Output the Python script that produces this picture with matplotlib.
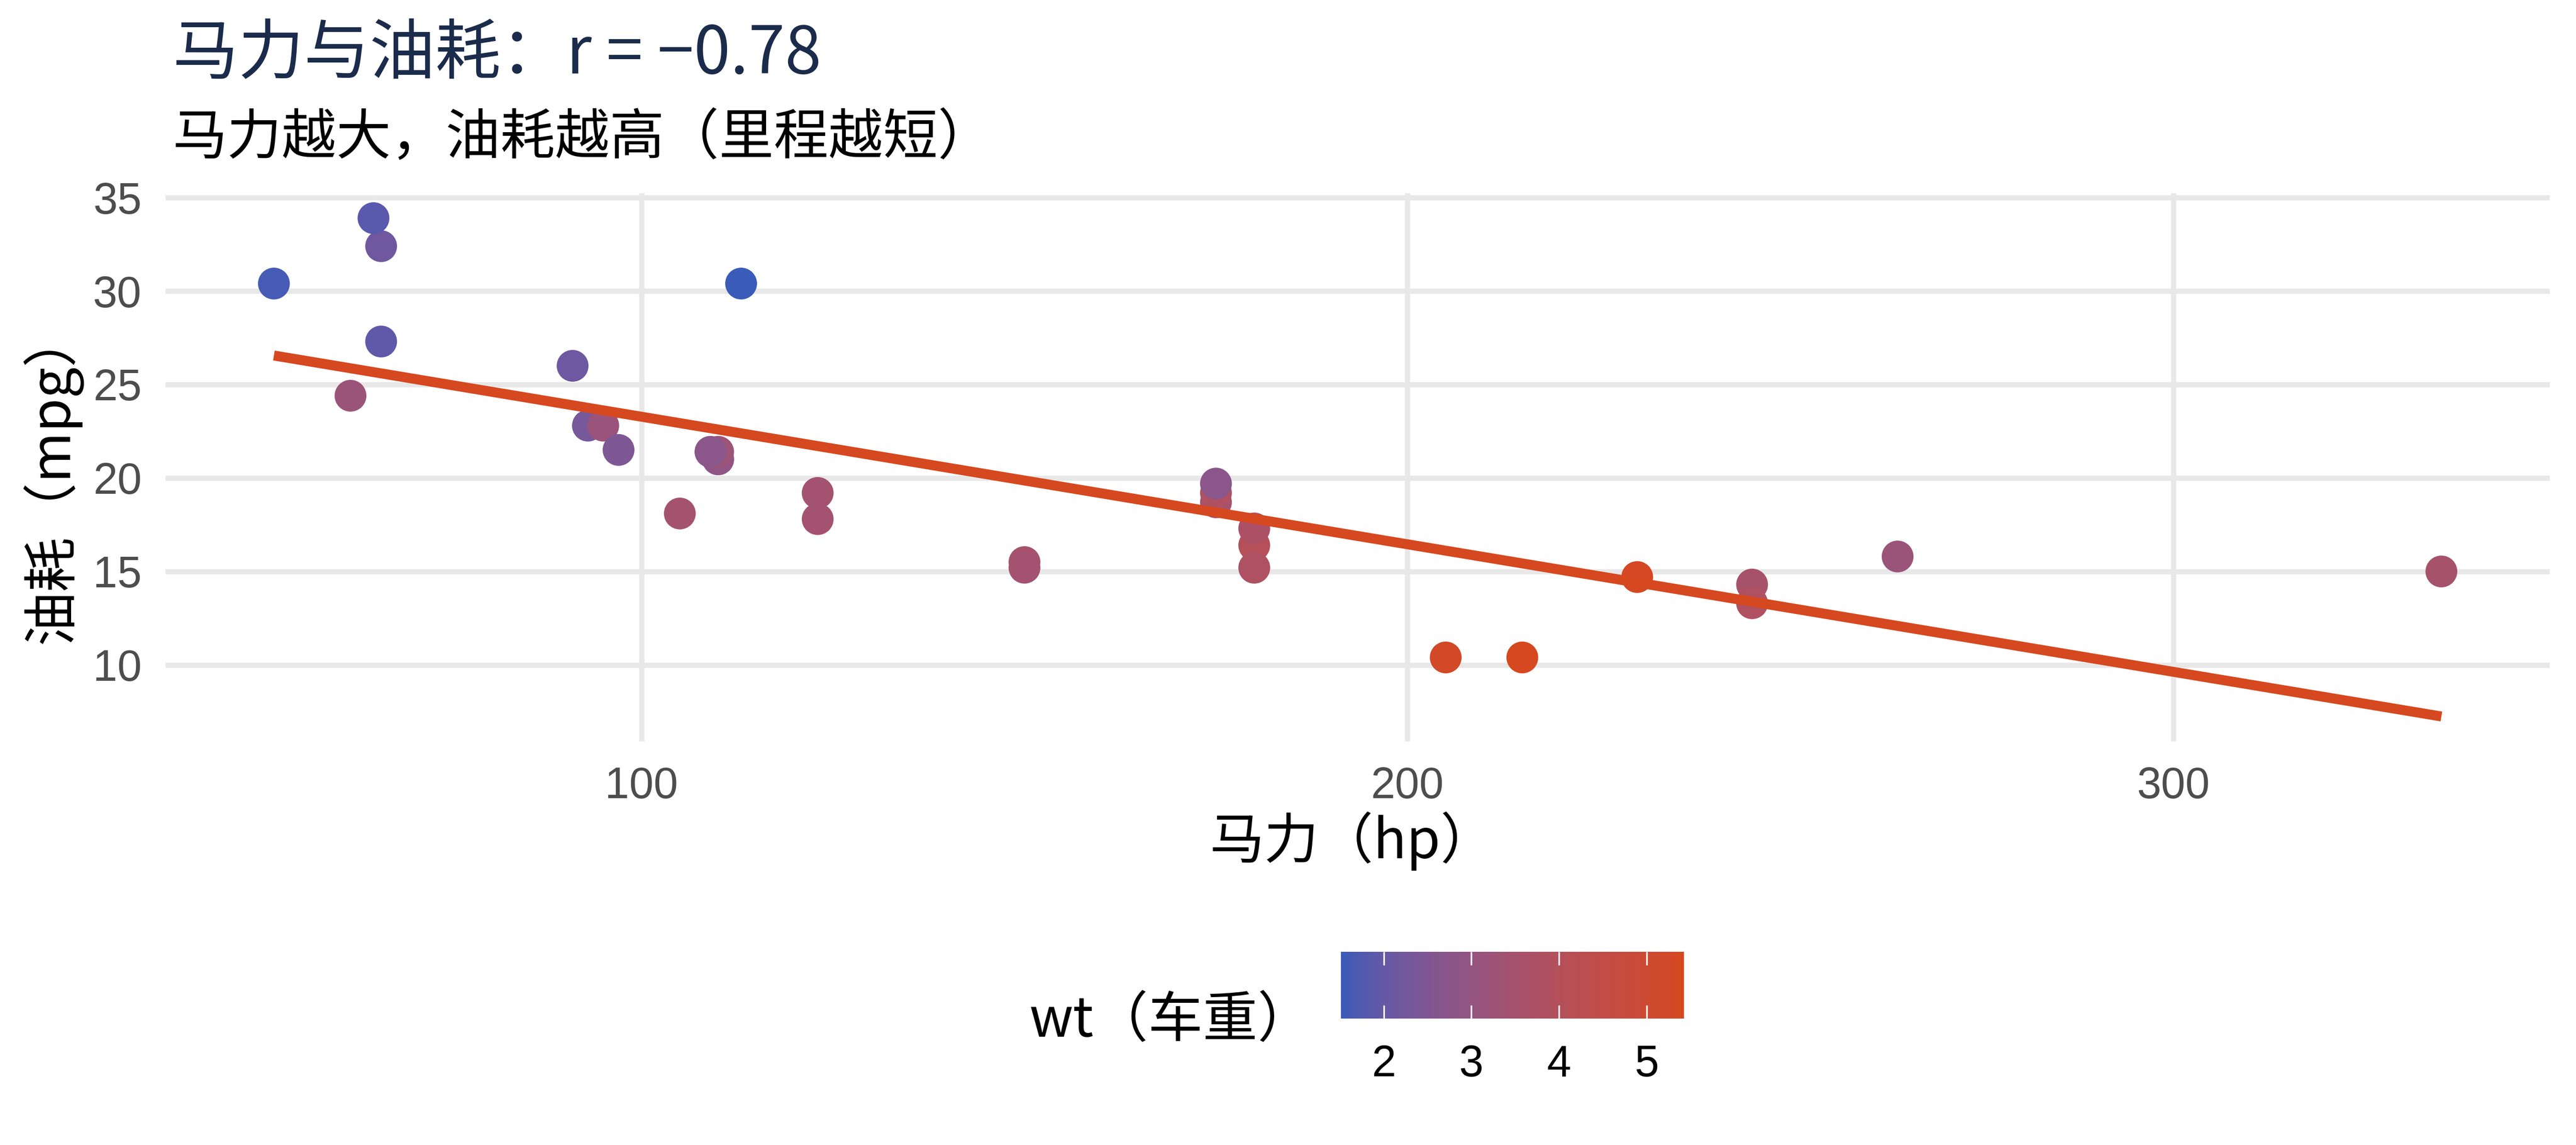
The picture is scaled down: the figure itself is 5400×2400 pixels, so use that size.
import numpy as np
import matplotlib
matplotlib.use("Agg")
import matplotlib.pyplot as plt
from matplotlib.colors import ListedColormap, Normalize, to_rgb

# ---- data (mtcars: hp, mpg, wt) ----
hp = [110, 110, 93, 110, 175, 105, 245, 62, 95, 123, 123, 180, 180, 180, 205,
      215, 230, 66, 52, 65, 97, 150, 150, 245, 175, 66, 91, 113, 264, 175, 335, 109]
mpg = [21.0, 21.0, 22.8, 21.4, 18.7, 18.1, 14.3, 24.4, 22.8, 19.2, 17.8, 16.4, 17.3, 15.2, 10.4,
       10.4, 14.7, 32.4, 30.4, 33.9, 21.5, 15.5, 15.2, 13.3, 19.2, 27.3, 26.0, 30.4, 15.8, 19.7, 15.0, 21.4]
wt = [2.620, 2.875, 2.320, 3.215, 3.440, 3.460, 3.570, 3.190, 3.150, 3.440, 3.440, 4.070, 3.730, 3.780, 5.250,
      5.424, 5.345, 2.200, 1.615, 1.835, 2.465, 3.520, 3.435, 3.840, 3.845, 1.935, 2.140, 1.513, 3.170, 2.770, 3.570, 2.780]

x_breaks = [100, 200, 300]
y_breaks = [10, 15, 20, 25, 30, 35]
legend_breaks = [2, 3, 4, 5]

title_text = "马力与油耗：r = −0.78"
subtitle_text = "马力越大，油耗越高（里程越短）"
x_label = "马力（hp）"
y_label = "油耗（mpg）"
legend_title = "wt（车重）"

low_col = "#3A5BB9"
high_col = "#D6481F"
title_col = "#1B2B4B"

CJK = ["Noto Sans CJK SC", "DejaVu Sans"]
LAT = ["Liberation Sans", "DejaVu Sans"]

# ---- Lab gradient (like ggplot scale_colour_gradient) ----
WHITE = np.array([0.95047, 1.0, 1.08883])
M = np.array([[0.4124564, 0.3575761, 0.1804375],
              [0.2126729, 0.7151522, 0.0721750],
              [0.0193339, 0.1191920, 0.9503041]])
Minv = np.linalg.inv(M)


def rgb2lab(rgb):
    c = np.asarray(rgb, float)
    lin = np.where(c <= 0.04045, c / 12.92, ((c + 0.055) / 1.055) ** 2.4)
    xyz = M @ lin / WHITE
    d = 6 / 29
    f = np.where(xyz > d ** 3, np.cbrt(xyz), xyz / (3 * d * d) + 4 / 29)
    return np.array([116 * f[1] - 16, 500 * (f[0] - f[1]), 200 * (f[1] - f[2])])


def lab2rgb(lab):
    L, a, b = lab
    fy = (L + 16) / 116
    fx = fy + a / 500
    fz = fy - b / 200
    d = 6 / 29
    f = np.array([fx, fy, fz])
    xyz = np.where(f > d, f ** 3, 3 * d * d * (f - 4 / 29)) * WHITE
    lin = Minv @ xyz
    lin = np.clip(lin, 0, 1)
    c = np.where(lin <= 0.0031308, 12.92 * lin, 1.055 * lin ** (1 / 2.4) - 0.055)
    return np.clip(c, 0, 1)


lab_lo = rgb2lab(to_rgb(low_col))
lab_hi = rgb2lab(to_rgb(high_col))
cols = [lab2rgb(lab_lo + t * (lab_hi - lab_lo)) for t in np.linspace(0, 1, 256)]
cmap = ListedColormap(cols)
wmin, wmax = min(wt), max(wt)
norm = Normalize(wmin, wmax)

# ---- figure ----
W, H = 5400, 2400
fig = plt.figure(figsize=(18, 8), dpi=300)
fig.patch.set_facecolor("white")

pl, pr, pt, pb = 347, 5345, 405, 1554
ax = fig.add_axes([pl / W, 1 - pb / H, (pr - pl) / W, (pb - pt) / H])

ax.scatter(hp, mpg, c=wt, cmap=cmap, norm=norm, s=256, linewidths=0, zorder=3)

hp_a = np.array(hp, float)
mpg_a = np.array(mpg, float)
slope, intercept = np.polyfit(hp_a, mpg_a, 1)
xs = np.array([hp_a.min(), hp_a.max()])
ys = intercept + slope * xs
ax.plot(xs, ys, color=high_col, lw=5.0, zorder=4, solid_capstyle="butt")

xr = hp_a.max() - hp_a.min()
ax.set_xlim(hp_a.min() - 0.05 * xr, hp_a.max() + 0.05 * xr)
ylo = min(mpg_a.min(), ys.min())
yhi = max(mpg_a.max(), ys.max())
yr = yhi - ylo
ax.set_ylim(ylo - 0.05 * yr, yhi + 0.05 * yr)

ax.set_xticks(x_breaks)
ax.set_yticks(y_breaks)
ax.grid(True, color="#E8E8E8", lw=2.6, zorder=0)
ax.set_axisbelow(True)
for s in ax.spines.values():
    s.set_visible(False)
ax.tick_params(axis="both", length=0, labelsize=22, labelcolor="#4D4D4D")
ax.tick_params(axis="x", pad=12.5)
ax.tick_params(axis="y", pad=12)
for lab in ax.get_xticklabels() + ax.get_yticklabels():
    lab.set_family(LAT)

# ---- texts ----
fig.text(362 / W, 1 - 154 / H, title_text, ha="left", va="baseline",
         fontsize=33, color=title_col, family=CJK)
fig.text(362 / W, 1 - 323 / H, subtitle_text, ha="left", va="baseline",
         fontsize=27.5, color="black", family=CJK)
fig.text(2835 / W, 1 - 1799 / H, x_label, ha="center", va="baseline",
         fontsize=27.5, color="black", family=CJK)
fig.text(45 / W, 1 - 1000 / H, y_label, ha="left", va="center", rotation=90,
         fontsize=27.5, color="black", family=CJK)

# ---- colourbar legend ----
cl, cr, ct, cb = 2811, 3530, 1995, 2135
cax = fig.add_axes([cl / W, 1 - cb / H, (cr - cl) / W, (cb - ct) / H])
grad = np.linspace(wmin, wmax, 512)[None, :]
cax.imshow(grad, aspect="auto", cmap=cmap, norm=norm, extent=[wmin, wmax, 0, 1],
           interpolation="bilinear")
cax.set_xlim(wmin, wmax)
cax.set_ylim(0, 1)
for b in legend_breaks:
    cax.plot([b, b], [0, 0.2], color="white", lw=0.8, solid_capstyle="butt")
    cax.plot([b, b], [0.8, 1.0], color="white", lw=0.8, solid_capstyle="butt")
for s in cax.spines.values():
    s.set_visible(False)
cax.set_yticks([])
cax.set_xticks(legend_breaks)
cax.set_xticklabels([str(b) for b in legend_breaks])
cax.tick_params(axis="x", length=0, pad=13, labelsize=22, labelcolor="black")
for lab in cax.get_xticklabels():
    lab.set_family(LAT)

fig.text(2158 / W, 1 - 2140 / H, legend_title, ha="left", va="center",
         fontsize=27.5, color="black", family=CJK)

fig.savefig("out.png", dpi=300, facecolor="white")
